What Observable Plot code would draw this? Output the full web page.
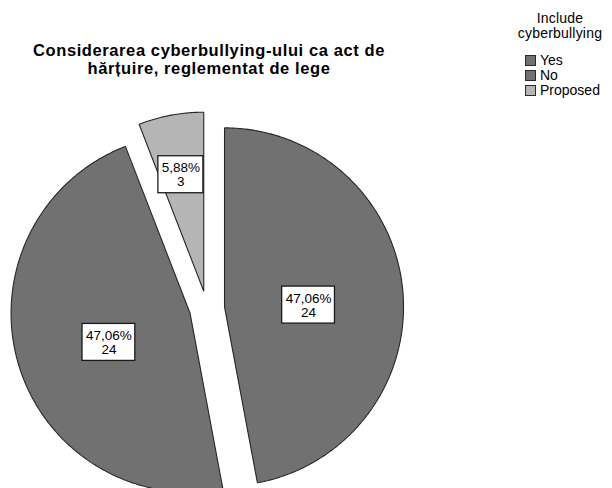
<!DOCTYPE html>
<html>
<head>
<meta charset="utf-8">
<script src="https://cdn.jsdelivr.net/npm/d3@7"></script>
<script src="https://cdn.jsdelivr.net/npm/@observablehq/plot@0.6"></script>
<style>
  html, body { margin: 0; padding: 0; background: #fff; }
  #wrap { position: relative; width: 612px; height: 488px; overflow: hidden; font-family: "Liberation Sans", Arial, sans-serif; color: #000; }
  #wrap svg { position: absolute; left: 0; top: 0; }
  .title { position: absolute; left: 0; width: 418px; top: 42px; text-align: center; font-weight: bold; font-size: 16.5px; letter-spacing: 0.6px; line-height: 17.5px; white-space: nowrap; }
  .ltitle { position: absolute; left: 500px; width: 120px; top: 10.5px; text-align: center; font-size: 14px; letter-spacing: 0.2px; line-height: 15.6px; white-space: nowrap; }
  .litem { position: absolute; left: 540px; font-size: 14px; line-height: 16px; white-space: nowrap; }
  .sw { position: absolute; left: 525px; width: 9px; height: 9px; border: 1px solid #2a2a2a; }
</style>
</head>
<body>
<div id="wrap"></div>
<script>
// ---- data ----
const categories = ["Yes", "No", "Proposed"];
const counts = [24, 24, 3];
const titleLines = ["Considerarea cyberbullying-ului ca act de", "hărțuire, reglementat de lege"];
const legendTitleLines = ["Include", "cyberbullying"];
const sliceColors = ["#717171", "#717171", "#b5b5b5"];

// ---- layout ----
const W = 612, H = 488;
const CX = 206.5, CY = 308, R = 179, EXPLODE = 17.6;

const total = d3.sum(counts);
const rows = categories.map((c, i) => ({category: c, count: counts[i]}));
const arcs = d3.pie().sort(null).value(d => d.count)(rows);

const points = [];
const labels = [];
for (const a of arcs) {
  const mid = (a.startAngle + a.endAngle) / 2;
  const ox = CX + EXPLODE * Math.sin(mid);
  const oy = CY - EXPLODE * Math.cos(mid);
  const cat = a.data.category;
  points.push({category: cat, x: ox, y: oy});
  const n = Math.max(4, Math.ceil((a.endAngle - a.startAngle) / 0.01));
  for (let k = 0; k <= n; k++) {
    const ang = a.startAngle + (a.endAngle - a.startAngle) * k / n;
    points.push({category: cat, x: ox + R * Math.sin(ang), y: oy - R * Math.cos(ang)});
  }
  const th = a.endAngle - a.startAngle;
  const dist = 4 * R * Math.sin(th / 2) / (3 * th) * 1.05;
  const pct = (a.data.count / total * 100).toFixed(2).replace(".", ",") + "%";
  labels.push({
    category: cat,
    x: ox + dist * Math.sin(mid),
    y: oy - dist * Math.cos(mid),
    pct,
    count: a.data.count,
    w: pct.length * 7.8 + 6
  });
}

const chart = Plot.plot({
  width: W,
  height: H,
  margin: 0,
  style: {fontFamily: "'Liberation Sans', Arial, sans-serif", background: "transparent"},
  x: {domain: [0, W], range: [0, W], axis: null},
  y: {domain: [0, H], range: [0, H], axis: null},
  color: {domain: categories, range: sliceColors},
  marks: [
    Plot.line(points, {
      x: "x", y: "y", z: "category", fill: "category",
      stroke: "#262626", strokeWidth: 1.1, strokeLinejoin: "miter",
      curve: "linear-closed"
    }),
    Plot.rect(labels, {
      x1: d => d.x - d.w / 2, x2: d => d.x + d.w / 2,
      y1: d => d.y - 18.5, y2: d => d.y + 18.5,
      dy: 6,
      fill: "white", stroke: "#1a1a1a", strokeWidth: 1.3
    }),
    Plot.text(labels, {
      x: "x", y: "y", dy: 6,
      text: d => d.pct + "\n" + d.count,
      fontSize: 13.5, lineHeight: 1.06, fill: "#000"
    })
  ]
});

const wrap = document.getElementById("wrap");
wrap.appendChild(chart);

const t = document.createElement("div");
t.className = "title";
t.innerHTML = titleLines.join("<br>");
wrap.appendChild(t);

const lt = document.createElement("div");
lt.className = "ltitle";
lt.innerHTML = legendTitleLines.join("<br>");
wrap.appendChild(lt);

const baselines = [65, 80, 95];
categories.forEach((c, i) => {
  const sw = document.createElement("div");
  sw.className = "sw";
  sw.style.top = (baselines[i] - 10) + "px";
  sw.style.background = sliceColors[i];
  wrap.appendChild(sw);
  const it = document.createElement("div");
  it.className = "litem";
  it.style.top = (baselines[i] - 12.6) + "px";
  it.textContent = c;
  wrap.appendChild(it);
});
</script>
</body>
</html>
